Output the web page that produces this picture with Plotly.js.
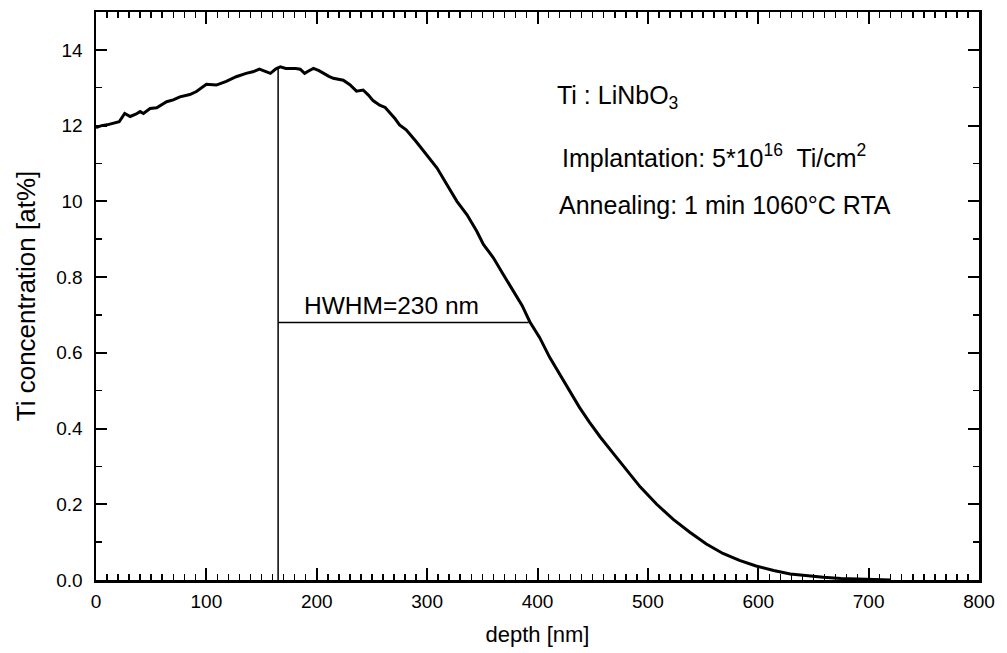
<!DOCTYPE html>
<html>
<head>
<meta charset="utf-8">
<script src="https://cdn.plot.ly/plotly-3.0.1.min.js"></script>
<style>body{margin:0;padding:0;background:#fff;}#chart{width:1007px;height:653px;}</style>
</head>
<body>
<div id="chart"></div>
<script>
// depth [nm]
const depth = [0,5,10,15,21,26,31,36,40,43,49,55,64,70,76,85,91,100,109,118,127,136,142,148,153,158,163,167,172,176,181,185,189,193,197,202,206,211,215,220,224,230,236,242,247,251,257,262,266,271,275,281,290,300,309,318,327,336,345,351,360,369,378,386,393,402,411,420,429,438,447,457,469,481,493,508,523,538,553,568,583,598,614,629,644,659,675,690,705,720];
// Ti concentration (axis units)
const conc = [1.195,1.200,1.202,1.205,1.210,1.232,1.224,1.230,1.237,1.232,1.245,1.247,1.263,1.268,1.276,1.282,1.290,1.309,1.307,1.317,1.329,1.338,1.342,1.349,1.344,1.338,1.350,1.355,1.351,1.351,1.351,1.349,1.338,1.345,1.351,1.345,1.338,1.330,1.325,1.322,1.320,1.308,1.291,1.294,1.280,1.266,1.254,1.248,1.235,1.218,1.202,1.189,1.158,1.122,1.088,1.044,1.000,0.965,0.921,0.886,0.851,0.807,0.763,0.725,0.682,0.640,0.588,0.544,0.500,0.456,0.417,0.377,0.333,0.289,0.246,0.200,0.160,0.126,0.095,0.070,0.052,0.037,0.025,0.016,0.011,0.007,0.004,0.002,0.001,0.000];

const peakDepth = 165;
const peakConc = 1.355;
const halfConc = 0.68;
const hwhmEnd = 392;

const xTickVals = [0,100,200,300,400,500,600,700,800];
const xTickText = ["0","100","200","300","400","500","600","700","800"];
const yTickVals = [0,0.2,0.4,0.6,0.8,1.0,1.2,1.4];
const yTickText = ["0.0","0.2","0.4","0.6","0.8","10","12","14"];

const font = "Liberation Sans, Arial, sans-serif";

const traces = [
  {x: depth, y: conc, type: 'scatter', mode: 'lines', line: {color: '#000', width: 3}, hoverinfo: 'skip'},
  {x: [peakDepth, peakDepth], y: [0, peakConc], type: 'scatter', mode: 'lines', line: {color: '#000', width: 1.5}, hoverinfo: 'skip'},
  {x: [peakDepth, hwhmEnd], y: [halfConc, halfConc], type: 'scatter', mode: 'lines', line: {color: '#000', width: 1.5}, hoverinfo: 'skip'}
];

const axisCommon = {
  showgrid: false, zeroline: false, showline: true, linecolor: '#000', linewidth: 2.5,
  mirror: 'ticks', ticks: 'inside', tickcolor: '#000', tickwidth: 2,
  tickfont: {family: font, size: 19, color: '#000'}
};

const layout = {
  width: 1007, height: 653,
  margin: {l: 96, r: 28, t: 12, b: 73},
  paper_bgcolor: '#fff', plot_bgcolor: '#fff',
  showlegend: false,
  xaxis: Object.assign({}, axisCommon, {
    range: [0, 800], tickmode: 'array', tickvals: xTickVals, ticktext: xTickText,
    ticklen: 12, ticklabelstandoff: 3,
    minor: {dtick: 10, ticklen: 6, ticks: 'inside', tickcolor: '#000', tickwidth: 1.5},
    title: {text: 'depth [nm]', font: {family: font, size: 22, color: '#000'}, standoff: 16}
  }),
  yaxis: Object.assign({}, axisCommon, {
    range: [0, 1.5], tickmode: 'array', tickvals: yTickVals, ticktext: yTickText,
    ticklen: 11, ticklabelstandoff: 7,
    minor: {dtick: 0.1, ticklen: 6, ticks: 'inside', tickcolor: '#000', tickwidth: 1.5},
    title: {text: 'Ti concentration [at%]', font: {family: font, size: 26, color: '#000'}, standoff: 13}
  }),
  annotations: [
    {x: 416, y: 1.276, xref: 'x', yref: 'y', xanchor: 'left', yanchor: 'middle', showarrow: false,
     text: 'Ti : LiNbO<sub>3</sub>', font: {family: font, size: 25, color: '#000'}},
    {x: 420, y: 1.12, xref: 'x', yref: 'y', xanchor: 'left', yanchor: 'middle', showarrow: false,
     text: 'Implantation: 5*10<sup>16</sup>  Ti/cm<sup>2</sup>', font: {family: font, size: 25, color: '#000'}},
    {x: 418, y: 0.99, xref: 'x', yref: 'y', xanchor: 'left', yanchor: 'middle', showarrow: false,
     text: 'Annealing: 1 min 1060°C RTA', font: {family: font, size: 25, color: '#000'}},
    {x: 187, y: 0.726, xref: 'x', yref: 'y', xanchor: 'left', yanchor: 'middle', showarrow: false,
     text: 'HWHM=230 nm', font: {family: font, size: 24.5, color: '#000'}}
  ]
};

Plotly.newPlot('chart', traces, layout, {staticPlot: true, displayModeBar: false});
</script>
</body>
</html>
